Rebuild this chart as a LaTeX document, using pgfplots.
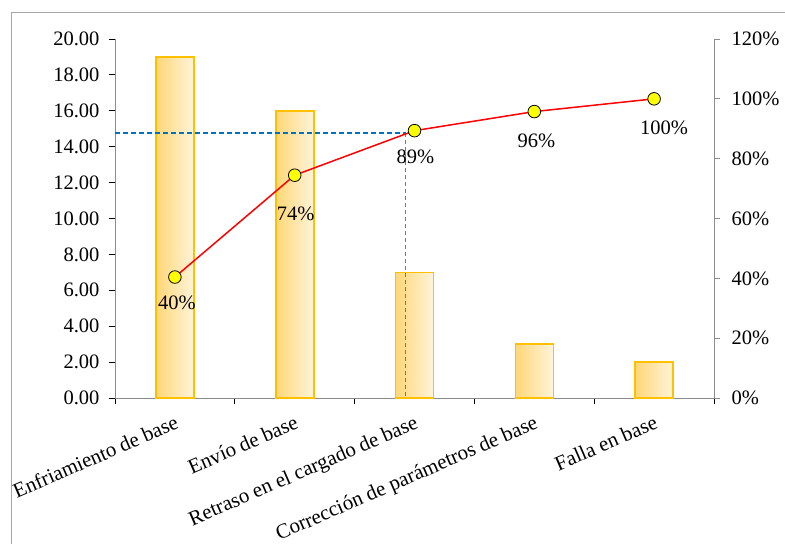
\documentclass[border=0pt]{standalone}
\usepackage{pgfplots}
\pgfplotsset{compat=1.18}
\usepackage{fontspec}
\setmainfont{Liberation Serif}

\definecolor{barEdge}{HTML}{FFC000}
\definecolor{barDark}{HTML}{FFD777}
\definecolor{barLight}{HTML}{FFF3DA}
\definecolor{refBlue}{RGB}{0,112,192}
\definecolor{refBlueLight}{RGB}{60,135,205}
\definecolor{frameGray}{HTML}{A6A6A6}
\definecolor{axisGray}{HTML}{8C8C8C}
\definecolor{markYellow}{HTML}{FFFF00}

\pgfplotsset{
  causebar/.style={ybar, bar width=38pt, bar shift=0pt,
    draw=barEdge, line width=1.6pt,
    left color=barDark, right color=barLight},
}

\begin{document}
\begin{tikzpicture}[font=\fontsize{20.5}{24}\selectfont]
\useasboundingbox (0,0) rectangle (785pt,544pt);
\draw[frameGray, line width=0.8pt] (11pt,0) -- (11pt,532pt) -- (785pt,532pt);

\begin{axis}[
  at={(115pt,146pt)}, anchor=south west,
  scale only axis, width=599pt, height=359pt,
  xmin=-0.5, xmax=4.5, ymin=0, ymax=20,
  axis y line*=left, axis x line*=bottom,
  axis line style={axisGray, line width=0.8pt},
  tick align=outside,
  major tick length=6pt,
  tick style={black, line width=0.8pt},
  ytick={0,2,...,20},
  yticklabels={0.00,2.00,4.00,6.00,8.00,10.00,12.00,14.00,16.00,18.00,20.00},
  yticklabel style={xshift=-6pt},
  xtick={-0.5,0.5,1.5,2.5,3.5,4.5},
  xticklabels={,,,,,},
  extra x ticks={0,1,2,3,4},
  extra x tick labels={Enfriamiento de base,Envío de base,Retraso en el cargado de base,Corrección de parámetros de base,Falla en base},
  extra x tick style={major tick length=0pt,
    tick label style={font=\fontsize{20.9}{24}\selectfont,
      xshift=-1pt, yshift=-16pt, rotate=23.5, anchor=north east, inner sep=0pt}},
  clip=false,
]
% one path per bar so that each bar carries its own gradient
\addplot[causebar] coordinates {(0,19)};
\addplot[causebar] coordinates {(1,16)};
\addplot[causebar] coordinates {(2,7)};
\addplot[causebar] coordinates {(3,3)};
\addplot[causebar] coordinates {(4,2)};
\end{axis}

\begin{axis}[
  at={(115pt,146pt)}, anchor=south west,
  scale only axis, width=599pt, height=359pt,
  xmin=-0.5, xmax=4.5, ymin=0, ymax=120,
  axis x line=none, axis y line*=right,
  axis line style={axisGray, line width=0.8pt},
  tick align=outside,
  major tick length=6pt,
  tick style={axisGray, line width=0.8pt},
  ytick={0,20,...,120},
  yticklabels={0\%,20\%,40\%,60\%,80\%,100\%,120\%},
  yticklabel style={xshift=8pt},
  clip=false,
]
% reading of the cumulative curve at the cut-off (88.6 %)
\addplot[color=refBlue, line width=1.5pt, dash pattern=on 5pt off 3pt]
  coordinates {(-0.5,88.56) (1.925,88.56)};
\addplot[color=refBlueLight, line width=1.4pt, dash pattern=on 4pt off 3pt]
  coordinates {(1.925,88.56) (1.925,0)};
% cumulative percentage; dx, dy place each label under its marker
\addplot[color=red, line width=1.5pt,
  mark=*, mark size=6.3pt,
  mark options={fill=markYellow, draw=black, line width=0.8pt},
  point meta=y,
  visualization depends on={\thisrow{dx}\as\labdx},
  visualization depends on={\thisrow{dy}\as\labdy},
  nodes near coords={\pgfmathprintnumber[fixed,precision=0,assume math mode=true]{\pgfplotspointmeta}\%},
  every node near coord/.append style={text=black, anchor=center, inner sep=0pt,
    xshift=\labdx pt, yshift=-\labdy pt},
]
  table[x=x, y=cum] {
x cum dx dy
0 40.43 2 26
1 74.47 1 39
2 89.36 1 26
3 95.74 2 29
4 100.00 10 29
};
\end{axis}
\end{tikzpicture}
\end{document}
